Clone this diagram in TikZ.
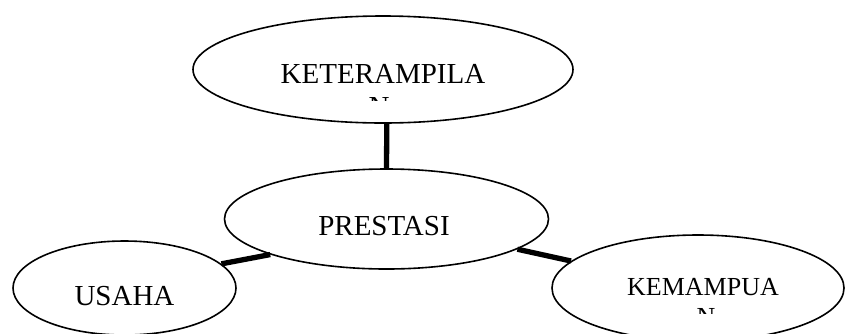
\documentclass[tikz,border=0pt]{standalone}
\usepackage{fontspec}
\setmainfont{Liberation Serif}
\usetikzlibrary{shapes.geometric}

\begin{document}
\begin{tikzpicture}[x=1pt, y=-1pt,
        bubble/.style={draw, ellipse, line width=1.6pt, inner sep=0pt},
        word/.style={anchor=base, inner sep=0pt, font=\fontsize{29}{33}\selectfont},
        smallword/.style={anchor=base, inner sep=0pt, font=\fontsize{26}{30}\selectfont},
        link/.style={line width=5.3pt}]
    \useasboundingbox (0, 0) rectangle (845, 333);
    % ellipses
    \node[bubble, minimum width=380pt, minimum height=107pt] (ket) at (383, 69.5) {};
    \node[bubble, minimum width=324pt, minimum height=100pt] (pres) at (386.5, 219) {};
    \node[bubble, minimum width=223pt, minimum height=94pt] (usaha) at (124.5, 288) {};
    \node[bubble, minimum width=292pt, minimum height=106pt] (kem) at (698, 288) {};
    % texts
    \node[word] (ketText) at (383, 83) {KETERAMPILA};
    \begin{scope}
        \clip (300, 90) rectangle (460, 100);
        \node[word] (ketRest) at (379, 116) {N};
    \end{scope}
    \node[word] (presText) at (384, 235) {PRESTASI};
    \node[word] (usahaText) at (124.5, 305) {USAHA};
    \node[smallword] (kemText) at (703, 295) {KEMAMPUA};
    \begin{scope}
        \clip (640, 300) rectangle (770, 313);
        \node[smallword] (kemRest) at (706, 325) {N};
    \end{scope}
    % connectors
    \draw[link] (ket.274) -- (pres.north);
    \draw[link] (usaha.14) -- (pres.197);
    \draw[link] (pres.347) -- (kem.168);
\end{tikzpicture}
\end{document}
